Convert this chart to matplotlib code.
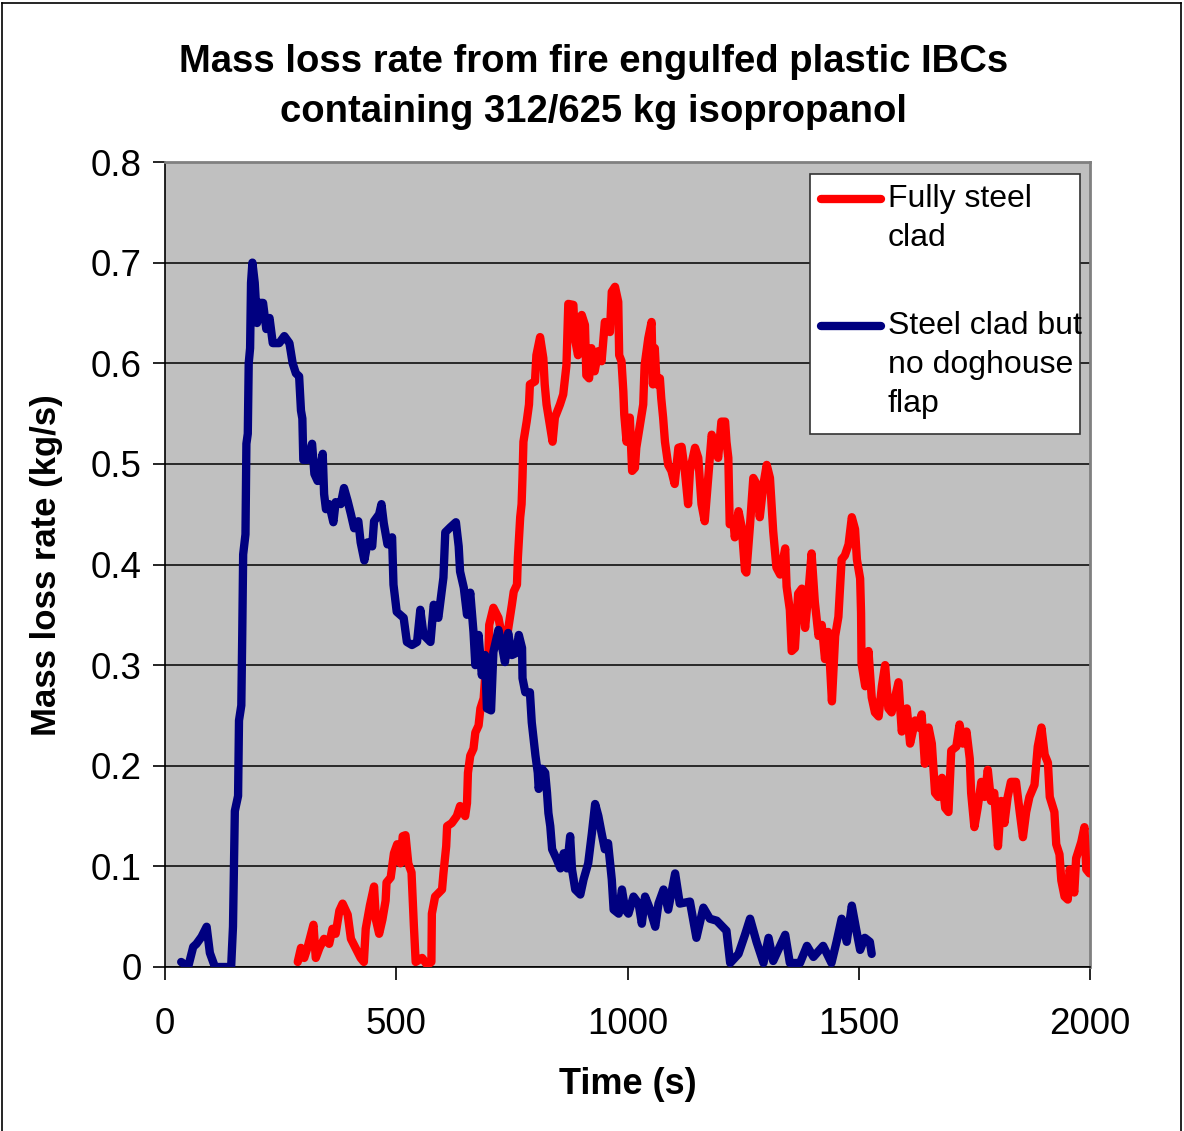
import matplotlib
matplotlib.use('Agg')
import matplotlib.pyplot as plt
from matplotlib.lines import Line2D
from matplotlib.patches import Rectangle

# ── Data ─────────────────────────────────────────────────────────────────────
# Fully steel clad IBC
t_clad = [
    287, 294, 301, 308, 316, 321, 326, 334, 344, 355, 362, 369, 377, 384, 395,
    402, 412, 423, 430, 434, 443, 452, 456, 463, 470, 477, 479, 488, 495, 502,
    509, 514, 520, 526, 533, 538, 542, 556, 567, 576, 577, 584, 599, 602, 608,
    610, 620, 631, 638, 649, 653, 655, 660, 667, 671, 678, 682, 689, 692, 699,
    701, 710, 721, 728, 736, 741, 750, 754, 761, 763, 768, 771, 773, 775, 782,
    787, 789, 800, 803, 811, 818, 821, 825, 832, 838, 843, 854, 861, 868, 872,
    883, 886, 893, 901, 908, 911, 917, 922, 929, 937, 944, 951, 962, 966, 973,
    980, 982, 987, 991, 993, 998, 1005, 1010, 1016, 1019, 1026, 1034, 1037,
    1045, 1052, 1055, 1059, 1063, 1070, 1073, 1077, 1081, 1088, 1095, 1102,
    1110, 1117, 1124, 1131, 1135, 1146, 1153, 1160, 1167, 1175, 1182, 1189,
    1196, 1203, 1211, 1214, 1218, 1221, 1229, 1232, 1240, 1247, 1254, 1257,
    1265, 1272, 1279, 1286, 1294, 1301, 1308, 1315, 1322, 1330, 1341, 1344,
    1351, 1355, 1362, 1369, 1377, 1384, 1391, 1398, 1405, 1413, 1420, 1427,
    1434, 1442, 1449, 1456, 1463, 1470, 1478, 1485, 1492, 1496, 1503, 1505,
    1506, 1514, 1521, 1528, 1535, 1543, 1550, 1557, 1564, 1571, 1586, 1593,
    1604, 1611, 1622, 1629, 1636, 1643, 1651, 1658, 1665, 1672, 1680, 1687,
    1694, 1700, 1711, 1718, 1725, 1733, 1740, 1743, 1750, 1757, 1765, 1772,
    1779, 1786, 1793, 1801, 1808, 1815, 1822, 1829, 1840, 1848, 1855, 1862,
    1869, 1880, 1887, 1895, 1902, 1909, 1913, 1923, 1927, 1934, 1938, 1945,
    1952, 1956, 1966, 1970, 1981, 1988, 1992, 1999,
]
mlr_clad = [
    0.005, 0.019, 0.009, 0.019, 0.033, 0.042, 0.009, 0.019, 0.028, 0.023,
    0.038, 0.033, 0.056, 0.063, 0.052, 0.028, 0.019, 0.009, 0.005, 0.038,
    0.061, 0.080, 0.047, 0.033, 0.047, 0.066, 0.084, 0.089, 0.113, 0.122,
    0.103, 0.130, 0.131, 0.103, 0.094, 0.042, 0.005, 0.009, 0.002, 0.005,
    0.053, 0.070, 0.077, 0.093, 0.120, 0.140, 0.143, 0.150, 0.160, 0.150,
    0.163, 0.193, 0.210, 0.217, 0.233, 0.240, 0.257, 0.267, 0.287, 0.307,
    0.340, 0.357, 0.347, 0.330, 0.307, 0.333, 0.360, 0.373, 0.380, 0.407,
    0.447, 0.460, 0.487, 0.522, 0.542, 0.559, 0.579, 0.582, 0.608, 0.626,
    0.605, 0.579, 0.559, 0.539, 0.522, 0.546, 0.559, 0.569, 0.598, 0.659,
    0.658, 0.625, 0.608, 0.648, 0.638, 0.588, 0.585, 0.615, 0.592, 0.612,
    0.602, 0.641, 0.631, 0.671, 0.676, 0.661, 0.608, 0.602, 0.572, 0.549,
    0.522, 0.546, 0.493, 0.496, 0.516, 0.536, 0.559, 0.598, 0.625, 0.641,
    0.579, 0.615, 0.579, 0.585, 0.565, 0.546, 0.522, 0.499, 0.493, 0.480,
    0.516, 0.517, 0.493, 0.460, 0.493, 0.516, 0.506, 0.460, 0.443, 0.489,
    0.529, 0.519, 0.506, 0.542, 0.542, 0.522, 0.506, 0.440, 0.443, 0.427,
    0.453, 0.437, 0.394, 0.392, 0.440, 0.486, 0.480, 0.447, 0.480, 0.499,
    0.486, 0.433, 0.397, 0.390, 0.416, 0.378, 0.355, 0.314, 0.317, 0.371,
    0.376, 0.337, 0.371, 0.411, 0.363, 0.329, 0.340, 0.306, 0.333, 0.264,
    0.329, 0.348, 0.405, 0.409, 0.420, 0.447, 0.435, 0.405, 0.386, 0.352,
    0.302, 0.279, 0.314, 0.268, 0.253, 0.249, 0.279, 0.300, 0.257, 0.253,
    0.283, 0.234, 0.257, 0.222, 0.245, 0.238, 0.251, 0.202, 0.238, 0.222,
    0.173, 0.169, 0.188, 0.158, 0.154, 0.215, 0.219, 0.241, 0.222, 0.234,
    0.207, 0.173, 0.139, 0.158, 0.184, 0.169, 0.196, 0.165, 0.173, 0.120,
    0.165, 0.143, 0.169, 0.184, 0.184, 0.154, 0.129, 0.154, 0.169, 0.181,
    0.219, 0.238, 0.211, 0.203, 0.169, 0.154, 0.122, 0.112, 0.086, 0.070,
    0.067, 0.097, 0.074, 0.108, 0.124, 0.139, 0.097, 0.093,
]

# Steel clad but no doghouse flap
t_noflap = [
    35, 50, 61, 68, 79, 90, 97, 108, 143, 147, 151, 158, 160, 165, 167, 169,
    174, 176, 179, 181, 184, 186, 189, 194, 199, 204, 212, 219, 226, 233, 247,
    258, 269, 276, 283, 290, 294, 297, 299, 308, 318, 323, 330, 341, 344, 348,
    355, 364, 369, 380, 387, 395, 402, 409, 418, 423, 431, 438, 448, 452, 463,
    468, 473, 481, 491, 494, 501, 516, 523, 534, 545, 552, 559, 574, 581, 591,
    602, 606, 617, 629, 635, 638, 646, 653, 660, 667, 671, 678, 685, 692, 696,
    705, 710, 721, 728, 735, 742, 750, 759, 765, 772, 773, 779, 789, 793, 801,
    806, 808, 815, 822, 826, 829, 833, 837, 847, 855, 862, 869, 876, 880, 887,
    898, 905, 915, 923, 930, 937, 944, 951, 958, 966, 970, 981, 988, 995,
    1002, 1013, 1024, 1031, 1038, 1049, 1060, 1067, 1078, 1088, 1103, 1113,
    1135, 1149, 1164, 1178, 1193, 1214, 1222, 1240, 1254, 1265, 1279, 1294,
    1305, 1315, 1326, 1341, 1351, 1373, 1388, 1402, 1423, 1441, 1452, 1463,
    1474, 1485, 1495, 1503, 1513, 1524, 1528,
]
mlr_noflap = [
    0.005, 0.000, 0.020, 0.023, 0.030, 0.040, 0.014, 0.000, 0.000, 0.040,
    0.155, 0.170, 0.245, 0.260, 0.330, 0.410, 0.430, 0.520, 0.530, 0.600,
    0.615, 0.680, 0.700, 0.680, 0.640, 0.660, 0.660, 0.634, 0.645, 0.620,
    0.620, 0.627, 0.620, 0.600, 0.590, 0.587, 0.553, 0.545, 0.504, 0.504,
    0.520, 0.490, 0.483, 0.510, 0.470, 0.455, 0.460, 0.442, 0.462, 0.460,
    0.476, 0.463, 0.450, 0.436, 0.443, 0.422, 0.404, 0.422, 0.418, 0.443,
    0.450, 0.460, 0.441, 0.420, 0.427, 0.380, 0.353, 0.347, 0.323, 0.320,
    0.323, 0.355, 0.330, 0.323, 0.360, 0.347, 0.387, 0.432, 0.437, 0.442,
    0.418, 0.393, 0.377, 0.350, 0.372, 0.333, 0.300, 0.330, 0.290, 0.310,
    0.257, 0.255, 0.313, 0.335, 0.320, 0.303, 0.332, 0.310, 0.312, 0.330,
    0.317, 0.287, 0.273, 0.273, 0.243, 0.210, 0.193, 0.177, 0.197, 0.193,
    0.173, 0.153, 0.140, 0.117, 0.107, 0.098, 0.113, 0.098, 0.130, 0.097,
    0.077, 0.072, 0.087, 0.103, 0.133, 0.162, 0.150, 0.133, 0.117, 0.123,
    0.087, 0.057, 0.053, 0.077, 0.057, 0.053, 0.070, 0.063, 0.043, 0.070,
    0.057, 0.040, 0.063, 0.077, 0.057, 0.093, 0.063, 0.065, 0.029, 0.059,
    0.048, 0.046, 0.036, 0.004, 0.013, 0.032, 0.048, 0.025, 0.004, 0.029,
    0.006, 0.017, 0.032, 0.004, 0.004, 0.021, 0.010, 0.021, 0.004, 0.025,
    0.048, 0.025, 0.061, 0.036, 0.017, 0.029, 0.025, 0.013,
]

y_ticks = [0, 0.1, 0.2, 0.3, 0.4, 0.5, 0.6, 0.7, 0.8]
y_tick_labels = ['0', '0.1', '0.2', '0.3', '0.4', '0.5', '0.6', '0.7', '0.8']
x_ticks = [0, 500, 1000, 1500, 2000]

RED = '#FF0000'
NAVY = '#000080'
FONT = 'Liberation Sans'

# ── Plot ─────────────────────────────────────────────────────────────────────
W, H = 1184, 1131
fig = plt.figure(figsize=(W / 100, H / 100), dpi=100)
fig.patch.set_facecolor('white')

# plot area in pixels: x 165..1090, y 162..967
ax = fig.add_axes([165 / W, 1 - 967 / H, (1090 - 165) / W, (967 - 162) / H])
ax.set_facecolor('#C0C0C0')

ax.plot(t_clad, mlr_clad, color=RED, lw=6, solid_joinstyle='round',
        solid_capstyle='round', zorder=3)
ax.plot(t_noflap, mlr_noflap, color=NAVY, lw=6, solid_joinstyle='round',
        solid_capstyle='round', zorder=3)

ax.set_xlim(0, 2000)
ax.set_ylim(0, 0.8)
ax.set_xticks(x_ticks)
ax.set_xticklabels([str(x) for x in x_ticks], fontfamily=FONT, fontsize=26.5)
ax.set_yticks(y_ticks)
ax.set_yticklabels(y_tick_labels, fontfamily=FONT, fontsize=26.5)
ax.tick_params(direction='out', length=9, width=1.2, color='black')
ax.tick_params(axis='x', pad=20)
ax.tick_params(axis='y', pad=8)
ax.yaxis.grid(True, color='black', lw=1.1)
ax.set_axisbelow(True)

for side in ['left', 'bottom']:
    ax.spines[side].set_color('black')
    ax.spines[side].set_linewidth(1.2)
for side in ['top', 'right']:
    ax.spines[side].set_color('#808080')
    ax.spines[side].set_linewidth(2)

# titles / labels
fig.text(594 / W, 1 - 62 / H, 'Mass loss rate from fire engulfed plastic IBCs',
         ha='center', va='center', fontfamily=FONT, fontweight='bold', fontsize=27.5)
fig.text(594 / W, 1 - 112 / H, 'containing 312/625 kg isopropanol',
         ha='center', va='center', fontfamily=FONT, fontweight='bold', fontsize=27.5)
fig.text(628 / W, 1 - 1085 / H, 'Time (s)', ha='center', va='center',
         fontfamily=FONT, fontweight='bold', fontsize=26)
fig.text(47 / W, 1 - 565 / H, 'Mass loss rate (kg/s)', ha='center', va='center',
         rotation=90, fontfamily=FONT, fontweight='bold', fontsize=25)

# legend, drawn by hand so that the swatch sits on the first text line
def ax_xy(px, py):
    return (px - 165) / 925, (967 - py) / 805

x0, y0 = ax_xy(810, 434)
x1, y1 = ax_xy(1080, 174)
box = Rectangle((x0, y0), x1 - x0, y1 - y0, transform=ax.transAxes,
                facecolor='white', edgecolor='#333333', lw=1.2, zorder=5)
ax.add_patch(box)

legend_rows = [
    (RED, 199, ['Fully steel', 'clad']),
    (NAVY, 326, ['Steel clad but', 'no doghouse', 'flap']),
]
for color, py, lines in legend_rows:
    lx0, ly = ax_xy(821, py)
    lx1, _ = ax_xy(881, py)
    ax.add_line(Line2D([lx0, lx1], [ly, ly], transform=ax.transAxes, color=color,
                       lw=6, solid_capstyle='round', zorder=6))
    for i, s in enumerate(lines):
        tx, ty = ax_xy(888, py + 39 * i)
        txt = ax.text(tx, ty, s, transform=ax.transAxes, ha='left', va='center',
                      fontfamily=FONT, fontsize=23, zorder=7)
        txt.set_clip_path(box)

# chart-area border
fig.add_artist(Line2D([2 / W, 2 / W], [0, 1 - 3 / H], transform=fig.transFigure,
                      color='black', lw=1.2))
fig.add_artist(Line2D([2 / W, 1181 / W], [1 - 3 / H, 1 - 3 / H],
                      transform=fig.transFigure, color='black', lw=1.2))
fig.add_artist(Line2D([1181 / W, 1181 / W], [0, 1 - 3 / H],
                      transform=fig.transFigure, color='black', lw=1.2))

fig.savefig('out.png', dpi=100, facecolor='white')
